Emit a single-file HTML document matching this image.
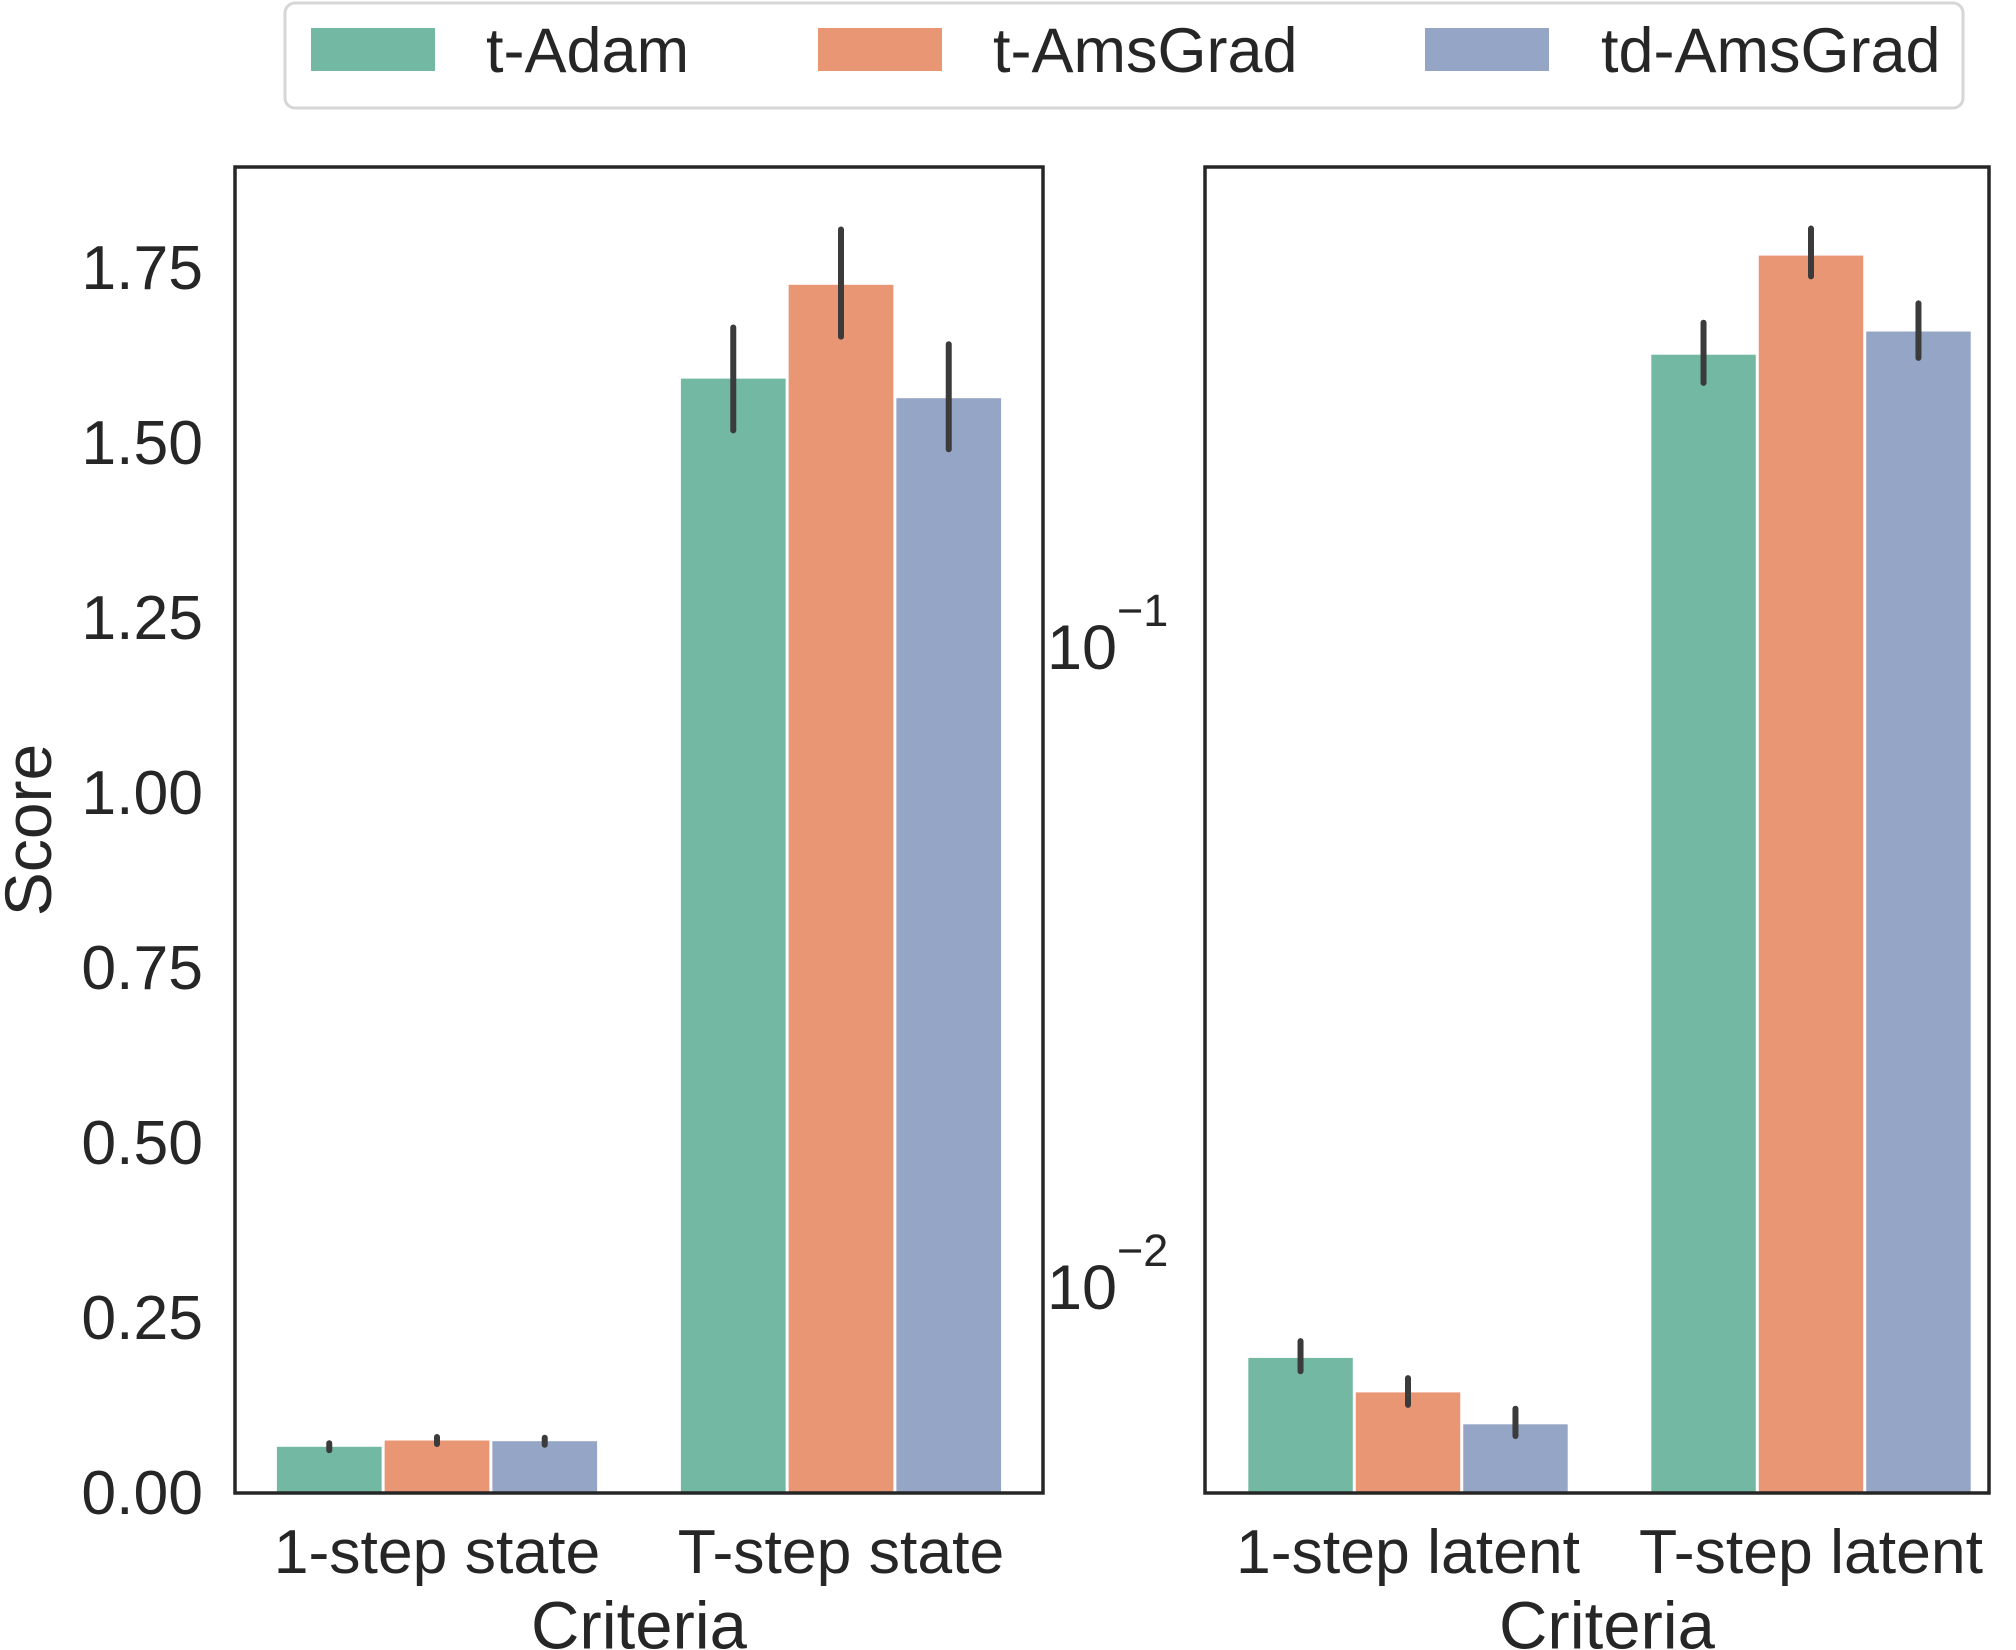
<!DOCTYPE html>
<html><head><meta charset="utf-8">
<style>
html,body{margin:0;padding:0;background:#fff;}
svg{display:block;font-family:"Liberation Sans",Arial,sans-serif;}
</style></head>
<body>
<svg id="chart" width="2016" height="1650" viewBox="0 0 2016 1650" xmlns="http://www.w3.org/2000/svg">
  <g id="legend">
    <rect x="285" y="3" width="1678" height="105" rx="10" fill="#fff" stroke="#d6d6d6" stroke-width="3"/>
    <rect x="311" y="28" width="124" height="43" fill="#73b8a2"/>
    <text x="486" y="51" font-size="63" fill="#262626" dominant-baseline="central">t-Adam</text>
    <rect x="818" y="28" width="124" height="43" fill="#e99675"/>
    <text x="993" y="51" font-size="63" fill="#262626" dominant-baseline="central">t-AmsGrad</text>
    <rect x="1425" y="28" width="124" height="43" fill="#95a5c5"/>
    <text x="1601" y="51" font-size="63" fill="#262626" dominant-baseline="central">td-AmsGrad</text>
  </g>
  <g id="left"></g>
  <g id="right"></g>
  <text x="0" y="0" font-size="66" fill="#262626" text-anchor="middle" dominant-baseline="central" transform="translate(28,830) rotate(-90)">Score</text>
  <text x="639" y="1626" font-size="67" fill="#262626" text-anchor="middle" dominant-baseline="central">Criteria</text>
  <text x="1607" y="1626" font-size="67" fill="#262626" text-anchor="middle" dominant-baseline="central">Criteria</text>
</svg>
<script>
const NS="http://www.w3.org/2000/svg";
const series=["t-Adam","t-AmsGrad","td-AmsGrad"];
const colors=["#73b8a2","#e99675","#95a5c5"];
const leftCats=["1-step state","T-step state"];
const leftVals=[[0.066,1.592],[0.075,1.726],[0.074,1.564]];
const leftLo=[[0.061,1.518],[0.070,1.652],[0.069,1.491]];
const leftHi=[[0.071,1.665],[0.080,1.805],[0.079,1.641]];
const leftTicks=[0,0.25,0.5,0.75,1.0,1.25,1.5,1.75];
const leftTickLabels=["0.00","0.25","0.50","0.75","1.00","1.25","1.50","1.75"];
const rightCats=["1-step latent","T-step latent"];
const rightVals=[[0.00772,0.2852],[0.00682,0.4074],[0.00608,0.310]];
const rightLo=[[0.00736,0.2577],[0.00652,0.378],[0.00583,0.282]];
const rightHi=[[0.0082,0.320],[0.00718,0.449],[0.00643,0.343]];
const rightTicks=[0.1,0.01];
const rightTickExp=["−1","−2"];

function el(tag,attrs,parent){const e=document.createElementNS(NS,tag);for(const k in attrs)e.setAttribute(k,attrs[k]);parent.appendChild(e);return e;}

function panel(g,x0,x1,y0,y1,gStart,gw,cats,vals,lo,hi,yScale,prefix){
  const n=cats.length, bw=gw*0.8/3;
  const base=y1;
  for(let s=0;s<3;s++){
    for(let c=0;c<n;c++){
      const cx=gStart+gw*(c+0.5)+(s-1)*bw;
      const yt=yScale(vals[s][c]);
      const r=el('rect',{x:cx-bw/2+1.5,y:yt,width:bw-3,height:base-yt,fill:colors[s]},g);
      
      
      const e=el('line',{x1:cx,x2:cx,y1:yScale(lo[s][c]),y2:yScale(hi[s][c]),stroke:'#3b3b3b','stroke-width':6,'stroke-linecap':'round'},g);
      
      
    }
  }
  for(let c=0;c<n;c++){
    const t=el('text',{x:gStart+gw*(c+0.5),y:1552,'font-size':62.5,fill:'#262626','text-anchor':'middle','dominant-baseline':'central'},g);
    t.textContent=cats[c];
    
    
  }
  const f=el('rect',{x:x0,y:y0,width:x1-x0,height:y1-y0,fill:'none',stroke:'#262626','stroke-width':3.5},g);
  
  
}

const L={x0:235,x1:1043,y0:167,y1:1493};
const yLeft=v=>L.y1-v*700;
const lg=document.getElementById('left');
panel(lg,L.x0,L.x1,L.y0,L.y1,235,404,leftCats,leftVals,leftLo,leftHi,yLeft,'left');
leftTicks.forEach((v,i)=>{
  const t=el('text',{x:203,y:yLeft(v),'font-size':62.5,fill:'#262626','text-anchor':'end','dominant-baseline':'central'},lg);
  t.textContent=leftTickLabels[i];
  
  
});

const R={x0:1205,x1:1989,y0:167,y1:1493};
const yRight=v=>1286-(Math.log10(v)+2)*640;
const rg=document.getElementById('right');
panel(rg,R.x0,R.x1,R.y0,R.y1,1206.5,403,rightCats,rightVals,rightLo,rightHi,yRight,'right');
rightTicks.forEach((v,i)=>{
  const y=yRight(v);
  const t=el('text',{x:1047,y:y+23,'font-size':63,fill:'#262626'},rg);
  t.textContent='10';
  
  
  const s=el('text',{x:1117,y:y-20,'font-size':45,fill:'#262626'},rg);
  s.textContent=rightTickExp[i];
  
  
});
</script>
</body></html>
